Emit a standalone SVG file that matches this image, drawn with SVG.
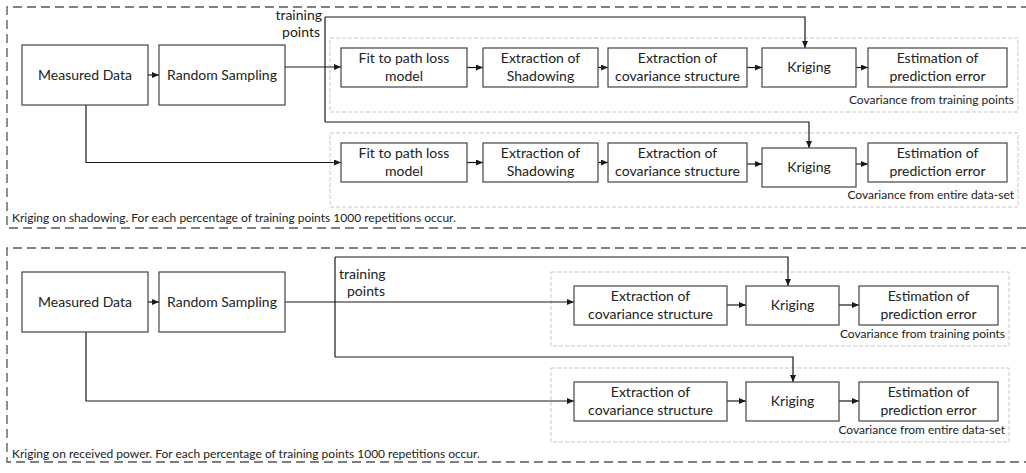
<svg xmlns="http://www.w3.org/2000/svg" width="1026" height="473" viewBox="0 0 1026 473">
<defs>
<marker id="arr" markerWidth="7" markerHeight="6" refX="7" refY="3" orient="auto" markerUnits="userSpaceOnUse">
<path d="M0,0 L7,3 L0,6 Z" fill="#1a1a1a"/>
</marker>
<style>
.panel{fill:none;stroke:#555;stroke-width:1.3;stroke-dasharray:9,5}
.grp{fill:none;stroke:#c8c8c8;stroke-width:1;stroke-dasharray:4,2}
.box{fill:#fff;stroke:#444;stroke-width:1.2}
.t{font-family:Lato,"Liberation Sans",sans-serif;font-size:14px;fill:#222;text-anchor:middle}
.s{font-family:Lato,"Liberation Sans",sans-serif;font-size:12px;fill:#222}
.c{fill:none;stroke:#1a1a1a;stroke-width:1.2}
.ca{fill:none;stroke:#1a1a1a;stroke-width:1.2;marker-end:url(#arr)}
</style>
</defs>
<rect width="1026" height="473" fill="#fff"/>
<g id="panels">
<path class="panel" d="M1030,7 H7 V228 H1030"/>
<path class="panel" d="M1030,248 H7 V462 H1030"/>
<rect class="grp" x="330" y="38" width="688" height="74"/>
<rect class="grp" x="330" y="133" width="688" height="74"/>
<rect class="grp" x="551" y="272" width="458" height="74"/>
<rect class="grp" x="551" y="368" width="458" height="74"/>
</g>
<g id="labels">
<text class="s" x="12" y="222">Kriging on shadowing. For each percentage of training points 1000 repetitions occur.</text>
<text class="s" x="12" y="458">Kriging on received power. For each percentage of training points 1000 repetitions occur.</text>
<text class="s" x="1014" y="104" text-anchor="end">Covariance from training points</text>
<text class="s" x="1014" y="199" text-anchor="end">Covariance from entire data-set</text>
<text class="s" x="1005" y="338" text-anchor="end">Covariance from training points</text>
<text class="s" x="1005" y="434" text-anchor="end">Covariance from entire data-set</text>
<text class="t" x="322" y="20" text-anchor="end" style="text-anchor:end">training</text>
<text class="t" x="320" y="37" style="text-anchor:end">points</text>
<text class="t" x="339" y="279" style="text-anchor:start">training</text>
<text class="t" x="347" y="296" style="text-anchor:start">points</text>
</g>
<g id="connectors">
<path class="ca" d="M148,75 H159"/>
<path class="ca" d="M285,67 H341"/>
<path class="c" d="M325,17 V122"/>
<path class="ca" d="M325,17 H805 V48"/>
<path class="ca" d="M325,122 H809 V148"/>
<path class="ca" d="M86,105 V162.5 H341"/>
<path class="ca" d="M467,67.5 H483"/>
<path class="ca" d="M598,67.5 H608"/>
<path class="ca" d="M747,67.5 H762"/>
<path class="ca" d="M856,67.5 H868"/>
<path class="ca" d="M467,162.5 H483"/>
<path class="ca" d="M598,162.5 H608"/>
<path class="ca" d="M747,164 H762"/>
<path class="ca" d="M856,164 H868"/>
<path class="ca" d="M148,302 H159"/>
<path class="ca" d="M285,302 H574"/>
<path class="c" d="M335,257 V357"/>
<path class="ca" d="M335,257 H788 V286"/>
<path class="ca" d="M335,357 H793 V382"/>
<path class="ca" d="M86,332 V401 H574"/>
<path class="ca" d="M727,305 H746"/>
<path class="ca" d="M839,305 H859"/>
<path class="ca" d="M727,401 H746"/>
<path class="ca" d="M839,401 H859"/>
</g>
<g id="a-measured"><rect class="box" x="22" y="45" width="126" height="60"/><text class="t" x="85" y="80">Measured Data</text></g>
<g id="a-random"><rect class="box" x="159" y="45" width="126" height="60"/><text class="t" x="222" y="80">Random Sampling</text></g>
<g id="a-fit1"><rect class="box" x="341" y="48" width="126" height="39"/><text class="t" x="404" y="63">Fit to path loss</text><text class="t" x="404" y="81">model</text></g>
<g id="a-shad1"><rect class="box" x="483" y="48" width="115" height="39"/><text class="t" x="540.5" y="63">Extraction of</text><text class="t" x="540.5" y="81">Shadowing</text></g>
<g id="a-cov1"><rect class="box" x="608" y="48" width="139" height="39"/><text class="t" x="677.5" y="63">Extraction of</text><text class="t" x="677.5" y="81">covariance structure</text></g>
<g id="a-krig1"><rect class="box" x="762" y="48" width="94" height="39"/><text class="t" x="809" y="72">Kriging</text></g>
<g id="a-est1"><rect class="box" x="868" y="48" width="139" height="39"/><text class="t" x="937.5" y="63">Estimation of</text><text class="t" x="937.5" y="81">prediction error</text></g>
<g id="a-fit2"><rect class="box" x="341" y="143" width="126" height="39"/><text class="t" x="404" y="158">Fit to path loss</text><text class="t" x="404" y="176">model</text></g>
<g id="a-shad2"><rect class="box" x="483" y="143" width="115" height="39"/><text class="t" x="540.5" y="158">Extraction of</text><text class="t" x="540.5" y="176">Shadowing</text></g>
<g id="a-cov2"><rect class="box" x="608" y="143" width="139" height="39"/><text class="t" x="677.5" y="158">Extraction of</text><text class="t" x="677.5" y="176">covariance structure</text></g>
<g id="a-krig2"><rect class="box" x="762" y="148" width="94" height="39"/><text class="t" x="809" y="172">Kriging</text></g>
<g id="a-est2"><rect class="box" x="868" y="143" width="139" height="39"/><text class="t" x="937.5" y="158">Estimation of</text><text class="t" x="937.5" y="176">prediction error</text></g>
<g id="b-measured"><rect class="box" x="22" y="272" width="126" height="60"/><text class="t" x="85" y="307">Measured Data</text></g>
<g id="b-random"><rect class="box" x="159" y="272" width="126" height="60"/><text class="t" x="222" y="307">Random Sampling</text></g>
<g id="b-cov1"><rect class="box" x="574" y="286" width="153" height="39"/><text class="t" x="650.5" y="301">Extraction of</text><text class="t" x="650.5" y="319">covariance structure</text></g>
<g id="b-krig1"><rect class="box" x="746" y="286" width="93" height="39"/><text class="t" x="792.5" y="310">Kriging</text></g>
<g id="b-est1"><rect class="box" x="859" y="286" width="139" height="39"/><text class="t" x="928.5" y="301">Estimation of</text><text class="t" x="928.5" y="319">prediction error</text></g>
<g id="b-cov2"><rect class="box" x="574" y="382" width="153" height="39"/><text class="t" x="650.5" y="397">Extraction of</text><text class="t" x="650.5" y="415">covariance structure</text></g>
<g id="b-krig2"><rect class="box" x="746" y="382" width="93" height="39"/><text class="t" x="792.5" y="406">Kriging</text></g>
<g id="b-est2"><rect class="box" x="859" y="382" width="139" height="39"/><text class="t" x="928.5" y="397">Estimation of</text><text class="t" x="928.5" y="415">prediction error</text></g>
</svg>
